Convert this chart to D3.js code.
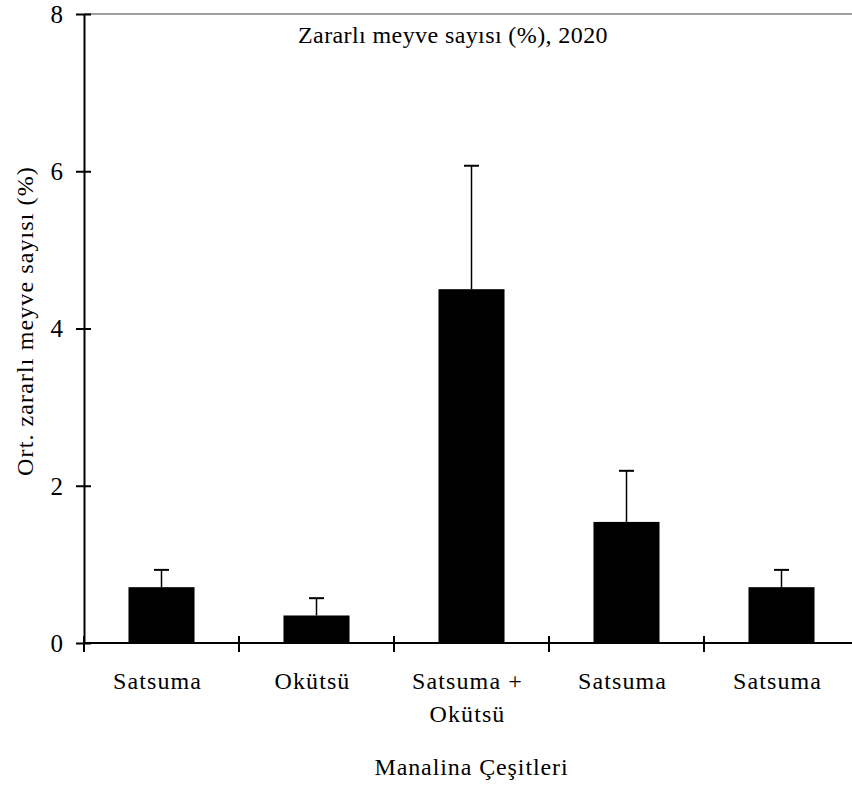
<!DOCTYPE html>
<html>
<head>
<meta charset="utf-8">
<script src="https://cdn.jsdelivr.net/npm/d3@7"></script>
<style>
  body { margin: 0; background: #fff; }
  svg text { font-family: "Times New Roman", "Liberation Serif", "DejaVu Serif", "Noto Serif", serif; fill: #000; }
</style>
</head>
<body>
<div id="barplot"></div>
<script>
// data
const categories = ["Satsuma", "Okütsü", "Satsuma + Okütsü", "Satsuma ", "Satsuma  "];
const labelLines = [["Satsuma"], ["Okütsü"], ["Satsuma +", "Okütsü"], ["Satsuma"], ["Satsuma"]];
const means = [0.71, 0.35, 4.50, 1.54, 0.71];
const errors = [0.22, 0.22, 1.57, 0.65, 0.22];
const yTicks = [0, 2, 4, 6, 8];

const FONT = '"Times New Roman", "Liberation Serif", "DejaVu Serif", serif';

let width = 852,
    height = 787;
const margin = {top: 14, right: -7, bottom: 144, left: 84};

let svg = d3.select("#barplot")
    .append("svg")
    .attr("width", width)
    .attr("height", height);

let g = svg.append("g")
    .attr("transform", "translate(" + margin.left + "," + margin.top + ")");

let plotW = width - margin.left - margin.right,
    plotH = height - margin.top - margin.bottom;

let x = d3.scaleBand()
    .domain(categories)
    .range([0, plotW])
    .paddingInner(0.574)
    .paddingOuter(0.287);

let xBand = d3.scaleBand()
    .domain(categories)
    .range([0, plotW]);

let y = d3.scaleLinear()
    .domain([0, 8])
    .range([plotH, 0]);

// top frame line (grey)
g.append("line")
    .attr("x1", 0).attr("x2", plotW + 20)
    .attr("y1", y(8)).attr("y2", y(8))
    .attr("stroke", "#808080")
    .attr("stroke-width", 1.5);

// bars
g.selectAll("rect.bar").data(means)
    .enter()
    .append("rect")
    .attr("class", "bar")
    .attr("x", (d, i) => x(categories[i]))
    .attr("y", d => y(d))
    .attr("width", x.bandwidth())
    .attr("height", d => y(0) - y(d))
    .attr("fill", "#000");

// error bars (upper only)
let errG = g.append("g");
means.forEach((m, i) => {
    let cx = x(categories[i]) + x.bandwidth() / 2;
    errG.append("line")
        .attr("x1", cx).attr("x2", cx)
        .attr("y1", y(m)).attr("y2", y(m + errors[i]))
        .attr("stroke", "#000").attr("stroke-width", 1.5);
    errG.append("line")
        .attr("x1", cx - 7.5).attr("x2", cx + 7.5)
        .attr("y1", y(m + errors[i])).attr("y2", y(m + errors[i]))
        .attr("stroke", "#000").attr("stroke-width", 2);
});

// y axis
let yAxis = g.append("g")
    .attr("font-family", null)
    .call(d3.axisLeft(y).tickValues(yTicks).tickSize(0).tickPadding(21).tickFormat(d3.format("d")));
yAxis.attr("font-family", FONT);
yAxis.select(".domain").attr("stroke", "#000").attr("stroke-width", 2);
yAxis.selectAll(".tick text")
    .style("font-size", "25px")
    .style("font-family", FONT)
    .attr("dy", "0.33em");
yAxis.selectAll(".tick").append("line")
    .attr("x1", -8).attr("x2", 7)
    .attr("stroke", "#000").attr("stroke-width", 2);

// x axis
let xAxis = g.append("g")
    .attr("transform", "translate(0," + plotH + ")");
xAxis.append("line")
    .attr("x1", 0).attr("x2", plotW)
    .attr("stroke", "#000").attr("stroke-width", 2);
xAxis.selectAll("line.tk").data(categories)
    .enter()
    .append("line")
    .attr("class", "tk")
    .attr("x1", d => xBand(d)).attr("x2", d => xBand(d))
    .attr("y1", -7).attr("y2", 9)
    .attr("stroke", "#000").attr("stroke-width", 2);

let labels = xAxis.selectAll("text.lbl").data(categories)
    .enter()
    .append("text")
    .attr("class", "lbl")
    .attr("y", 46)
    .style("text-anchor", "middle")
    .style("font-family", FONT)
    .style("font-size", "24px")
    .style("letter-spacing", "1.1px");
labels.each(function(d, i) {
    let t = d3.select(this);
    labelLines[i].forEach((ln, j) => {
        t.append("tspan")
            .attr("x", x(d) + x.bandwidth() / 2 - 4)
            .attr("dy", j === 0 ? 0 : 33)
            .text(ln);
    });
});

// chart title
g.append("text")
    .attr("x", 369)
    .attr("y", 29)
    .style("text-anchor", "middle")
    .style("font-family", FONT)
    .style("font-size", "24px")
    .style("letter-spacing", "0.4px")
    .text("Zararlı meyve sayısı (%), 2020");

// x-axis label
g.append("text")
    .attr("transform", `translate(${plotW / 2}, ${plotH + 132})`)
    .style("text-anchor", "middle")
    .style("font-family", FONT)
    .style("font-size", "24px")
    .style("letter-spacing", "0.9px")
    .text("Manalina Çeşitleri");

// y-axis label
svg.append("text")
    .attr("transform", "translate(33, 321) rotate(-90)")
    .style("text-anchor", "middle")
    .style("font-family", FONT)
    .style("font-size", "24px")
    .style("letter-spacing", "1.1px")
    .text("Ort. zararlı meyve sayısı (%)");
</script>
</body>
</html>
